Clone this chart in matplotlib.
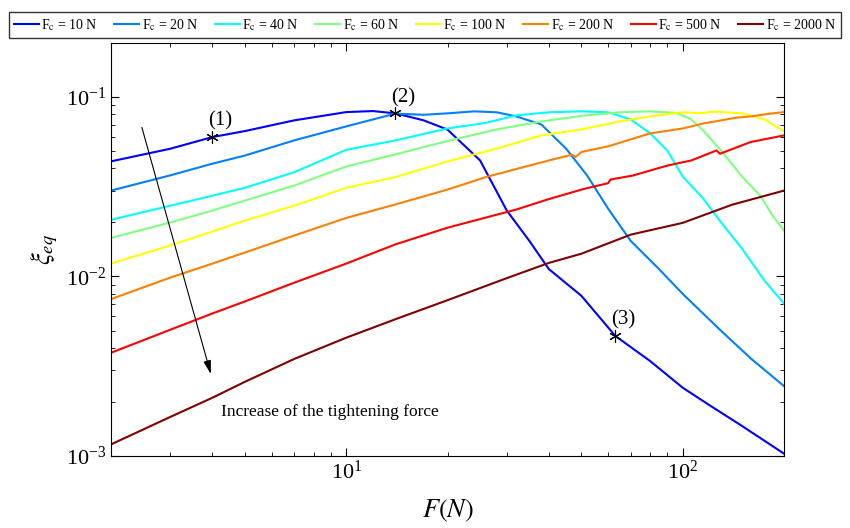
import numpy as np
import matplotlib
matplotlib.use("Agg")
import matplotlib.pyplot as plt

plt.rcParams['font.family'] = ['Liberation Serif', 'DejaVu Serif']
plt.rcParams['mathtext.fontset'] = 'stix'

# values (F in N, xi_eq)
F_10 = [2, 3, 4, 5, 7, 10, 12, 14, 17, 20, 25, 30, 35, 40, 50, 63, 80, 100, 120, 150, 200]
xi_10 = [0.0438, 0.0515, 0.0598, 0.0646, 0.0741, 0.0824, 0.0835, 0.0811, 0.0741, 0.0658, 0.0443,
         0.0233, 0.0158, 0.0110, 0.0078, 0.00467, 0.00338, 0.0024, 0.00192, 0.00147, 0.00103]

F_20 = [2, 3, 4, 5, 7, 10, 14, 17, 20, 24, 28, 32, 38, 45, 52, 60, 70, 85, 100, 130, 160, 200]
xi_20 = [0.0301, 0.0366, 0.0425, 0.0472, 0.0573, 0.0686, 0.0808, 0.0796, 0.0811, 0.0832, 0.0822,
         0.0780, 0.0703, 0.0516, 0.0365, 0.0239, 0.0158, 0.0110, 0.0080, 0.00498, 0.00347, 0.00245]

F_40 = [2, 3, 4, 5, 7, 10, 14, 20, 26, 32, 40, 50, 60, 70, 80, 90, 100, 115, 130, 150, 175, 200]
xi_40 = [0.0207, 0.0248, 0.0282, 0.0312, 0.0381, 0.0508, 0.0573, 0.0668, 0.0718, 0.0790, 0.0822,
         0.0832, 0.0822, 0.0750, 0.0627, 0.0503, 0.0360, 0.0272, 0.0200, 0.0143, 0.00947, 0.00705]

F_60 = [2, 3, 4, 5, 7, 10, 14, 20, 28, 38, 50, 65, 80, 95, 105, 115, 130, 150, 170, 185, 200]
xi_60 = [0.0164, 0.0200, 0.0233, 0.0265, 0.0321, 0.0410, 0.0479, 0.0569, 0.0660, 0.0731, 0.0785,
         0.0822, 0.0832, 0.0816, 0.0760, 0.0651, 0.0503, 0.0360, 0.0282, 0.0218, 0.0180]

F_100 = [2, 3, 4, 5, 7, 10, 14, 20, 28, 38, 50, 65, 80, 100, 112, 125, 138, 150, 175, 200]
xi_100 = [0.0118, 0.0149, 0.0178, 0.0205, 0.0248, 0.0312, 0.0358, 0.0438, 0.0516, 0.0611, 0.0660,
          0.0731, 0.0780, 0.0822, 0.0812, 0.0830, 0.0818, 0.0811, 0.0750, 0.0643]

F_200 = [2, 3, 4, 5, 7, 10, 14, 20, 26, 32, 40, 47, 48, 50, 60, 80, 100, 115, 130, 145, 160, 180, 200]
xi_200 = [0.00748, 0.00986, 0.0118, 0.0136, 0.0169, 0.0212, 0.0252, 0.0305, 0.0358, 0.0397, 0.0443,
          0.0478, 0.0463, 0.0494, 0.0531, 0.0627, 0.0668, 0.0712, 0.0741, 0.0768, 0.0780, 0.0806, 0.0824]

F_500 = [2, 3, 4, 5, 7, 10, 14, 20, 26, 32, 40, 51, 60, 61, 71, 90, 106, 126, 129, 159, 200]
xi_500 = [0.00376, 0.00505, 0.00622, 0.00726, 0.00923, 0.0118, 0.0151, 0.0187, 0.0213, 0.0236, 0.0270,
          0.0308, 0.0331, 0.0347, 0.0365, 0.0415, 0.0443, 0.0504, 0.0483, 0.0561, 0.0611]

F_2000 = [2, 3, 4, 5, 7, 10, 14, 20, 30, 40, 50, 70, 100, 140, 200]
xi_2000 = [0.00116, 0.00165, 0.00211, 0.00259, 0.00347, 0.00456, 0.00578, 0.00738, 0.00979, 0.0119,
           0.0134, 0.0171, 0.0199, 0.0251, 0.0301]

labels = ['10', '20', '40', '60', '100', '200', '500', '2000']
series = [(F_10, xi_10), (F_20, xi_20), (F_40, xi_40), (F_60, xi_60),
          (F_100, xi_100), (F_200, xi_200), (F_500, xi_500), (F_2000, xi_2000)]
colors = [(0, 0, 1), (0, 0.5, 1), (0, 1, 1), (0.5, 1, 0.5),
          (1, 1, 0), (1, 0.5, 0), (1, 0, 0), (0.5, 0, 0)]

pts_F = [4, 14, 63]
pts_xi = [0.0598, 0.0811, 0.00467]
pts_lab = ['(1)', '(2)', '(3)']

fig = plt.figure(figsize=(8.5, 5.28), dpi=100)
ax = fig.add_axes([0.1306, 0.1364, 0.7918, 0.7822])

lines = []
for (F, xi), lab, c in zip(series, labels, colors):
    l, = ax.plot(F, xi, color=c, lw=1.5, label=r'F$_\mathrm{c}$ = ' + lab + ' N')
    lines.append(l)

ax.plot(pts_F, pts_xi, 'k', ls='none', marker=(6, 2, 0), ms=9, mew=0.8)
for f, v, t in zip(pts_F, pts_xi, pts_lab):
    ax.annotate(t, (f, v), xytext=(-3, 8), textcoords='offset points', fontsize=15)

ax.annotate('', xy=(3.96, 0.00286), xytext=(2.47, 0.0677),
            arrowprops=dict(arrowstyle='-|>,head_width=0.25,head_length=0.9', color='k', lw=0.8,
                            mutation_scale=9, shrinkA=0, shrinkB=0))
ax.text(4.24, 0.00175, 'Increase of the tightening force', fontsize=12.5, va='center')

ax.set_xscale('log')
ax.set_yscale('log')
ax.set_xlim(2, 200)
ax.set_ylim(1e-3, 2e-1)
ax.tick_params(which='both', direction='in', top=True, right=True, labelsize=16)
ax.tick_params(which='major', length=6)
ax.tick_params(which='minor', length=3)
ax.set_xlabel(r'$F(N)$', fontsize=19, labelpad=10)
ax.set_ylabel(r'$\xi_{eq}$', fontsize=19)

fig.legend(handles=lines, loc='upper center', bbox_to_anchor=(0.5, 0.99), ncol=8,
           fontsize=10, frameon=True, fancybox=False, edgecolor='k', handlelength=1.8,
           handletextpad=0.2, columnspacing=1.15, borderpad=0.35)

fig.savefig('out.png', dpi=100)
